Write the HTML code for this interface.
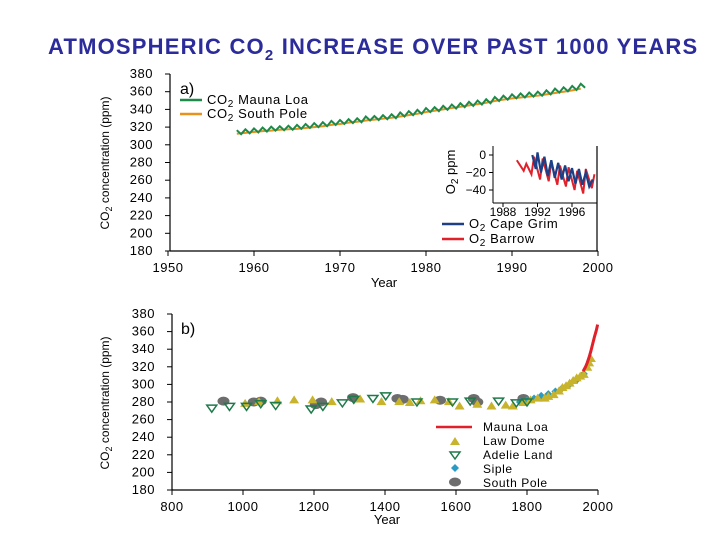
<!DOCTYPE html>
<html><head><meta charset="utf-8"><style>
html,body{margin:0;padding:0;background:#fff;width:720px;height:540px;overflow:hidden}
svg{display:block}
text{font-family:"Liberation Sans",Arial,sans-serif}
</style></head><body>
<svg id="chart" width="720" height="540" viewBox="0 0 720 540">
<text x="48" y="54" font-size="22" font-weight="bold" letter-spacing="1.2" fill="#2b2b9c">ATMOSPHERIC CO<tspan font-size="15" dy="6">2</tspan><tspan dy="-6"> INCREASE OVER PAST 1000 YEARS</tspan></text>
<g id="ga"></g>
<g id="gi"></g>
<g id="gb"></g>
</svg>
<script>
// ---- Panel a data ----
const aYears = [1958,1959,1960,1961,1962,1963,1964,1965,1966,1967,1968,1969,1970,1971,1972,1973,1974,1975,1976,1977,1978,1979,1980,1981,1982,1983,1984,1985,1986,1987,1988,1989,1990,1991,1992,1993,1994,1995,1996,1997,1998];
const maunaLoa = [314,315,316,317,318,318.5,319,320,321,322,323,324.5,325.5,326.5,327.5,329.5,330,331,332,334,335.5,337,339,340,341.5,343,344.5,346,347.5,349,351.5,353,354.5,355.5,356.5,357.5,359,361,362.5,364,366.5];
const southPole = [312.5,313.5,314.5,315.5,316,317,317.5,318,319,320,321,322.5,323.5,325,326,327.5,328.5,329.5,330.5,332,333.5,335,337,338.5,340,341.5,343,344.5,346,347.5,349.5,351,352.5,353.5,354.5,355.5,357,358.5,360,361.5,363.5];
const aYTicks = [180,200,220,240,260,280,300,320,340,360,380];
const aXTicks = [1950,1960,1970,1980,1990,2000];
// ---- Inset O2 data ----
const barrowT = [1989.6,1990.4,1990.7,1991.3,1991.6,1992.3,1992.6,1993.3,1993.6,1994.3,1994.6,1995.3,1995.6,1996.3,1996.6,1997.3,1997.6,1998.3,1998.6];
const barrowV = [-6,-18,-10,-22,-2,-28,-4,-30,-8,-34,-12,-36,-14,-40,-18,-44,-16,-38,-22];
const capeT = [1991.4,1991.8,1992.0,1992.4,1992.8,1993.2,1993.6,1994.0,1994.4,1994.8,1995.2,1995.6,1996.0,1996.4,1996.8,1997.2,1997.6,1998.0,1998.4];
const capeV = [0,-16,3,-20,-2,-24,-6,-26,-9,-28,-12,-30,-15,-33,-16,-34,-20,-36,-28];
const iYTicks = [0,-20,-40];
const iXTicks = [1988,1992,1996];
// ---- Panel b data ----
const bXTicks = [800,1000,1200,1400,1600,1800,2000];
const bYTicks = [180,200,220,240,260,280,300,320,340,360,380];
const mlYears = [1958,1965,1970,1975,1980,1985,1990,1995,1999];
const mlVals = [315,320,325,331,338,346,354,361,368];
const lawYears = [1006,1045,1097,1144,1196,1250,1330,1390,1440,1470,1500,1540,1580,1610,1660,1700,1740,1760,1790,1810,1830,1850,1860,1875,1890,1900,1910,1920,1930,1940,1950,1960,1970,1975,1980];
const lawVals = [279,281,282,283,283,281,284,281,281,280,282,283,281,276,278,276,277,276,280,283,285,285,287,289,293,297,299,302,305,308,310,312,320,325,330];
const adelieYears = [912,962,1010,1050,1092,1192,1225,1280,1312,1366,1402,1490,1590,1640,1720,1770,1800];
const adelieVals = [273,275,275,278,276,272,275,279,283,284,287,280,280,281,281,279,280];
const sipleYears = [1780,1800,1820,1840,1860,1880,1900,1920,1940,1960];
const sipleVals = [280,282,284,287,289,292,296,300,305,312];
const spYears = [945,1030,1050,1205,1220,1310,1435,1450,1555,1650,1660,1790];
const spVals = [281,280,281,277,280,285,284,283,282,284,280,284];

const NS='http://www.w3.org/2000/svg';
function mk(parent,tag,attrs,txt){const e=document.createElementNS(NS,tag);for(const k in attrs)e.setAttribute(k,attrs[k]);if(txt!==undefined)e.textContent=txt;parent.appendChild(e);return e;}
function lin(d0,d1,r0,r1){return v=>r0+(v-d0)*(r1-r0)/(d1-d0);}

// ===== Panel a =====
const ga=document.getElementById('ga');
const ax=lin(1950,2000,168,598), ay=lin(180,380,251,74);
let e=mk(ga,'line',{x1:170,y1:74,x2:170,y2:251,stroke:'#000','stroke-width':1.2});

e=mk(ga,'line',{x1:170,y1:251,x2:598,y2:251,stroke:'#000','stroke-width':1.2});

aYTicks.forEach(v=>{
  mk(ga,'line',{x1:165,y1:ay(v),x2:170,y2:ay(v),stroke:'#000'});
  e=mk(ga,'text',{x:153,y:ay(v)+4,'font-size':13,'text-anchor':'end','letter-spacing':0.5},v);
  
});
aXTicks.forEach(v=>{
  mk(ga,'line',{x1:ax(v),y1:251,x2:ax(v),y2:256,stroke:'#000'});
  e=mk(ga,'text',{x:ax(v),y:272,'font-size':13,'text-anchor':'middle','letter-spacing':0.5},v);
  
});
e=mk(ga,'text',{x:384,y:287,'font-size':13,'text-anchor':'middle'},'Year');

e=mk(ga,'text',{transform:'translate(109,163) rotate(-90)','font-size':12,'text-anchor':'middle'});
e.innerHTML='CO<tspan font-size="9" dy="3">2</tspan><tspan dy="-3"> concentration (ppm)</tspan>';

e=mk(ga,'text',{x:180,y:94,'font-size':16},'a)');

let p='';aYears.forEach((y,i)=>{p+=(i?'L':'M')+ax(y)+','+ay(southPole[i])+' ';});
e=mk(ga,'path',{d:p,fill:'none',stroke:'#e8911c','stroke-width':2});

p='';aYears.forEach((y,i)=>{p+=(i?'L':'M')+ax(y)+','+ay(maunaLoa[i]+2.5)+' L'+ax(y+0.5)+','+ay(maunaLoa[i]-2)+' ';});
e=mk(ga,'path',{d:p,fill:'none',stroke:'#1e8a4a','stroke-width':2});

[['#1e8a4a',100,' Mauna Loa','legend-mauna-loa'],['#e8911c',114,' South Pole','legend-south-pole']].forEach(L=>{
  mk(ga,'line',{x1:180,y1:L[1],x2:202,y2:L[1],stroke:L[0],'stroke-width':2.5});
  e=mk(ga,'text',{x:207,y:L[1]+4,'font-size':13,'letter-spacing':0.6});
  e.innerHTML='CO<tspan font-size="10" dy="3">2</tspan><tspan dy="-3">'+L[2]+'</tspan>';
  
});

// ===== Inset =====
const gi=document.getElementById('gi');
const ix=lin(1988,1996,503,572), iy=lin(0,-40,155,190);
mk(gi,'line',{x1:493,y1:146,x2:493,y2:203,stroke:'#000'});
mk(gi,'line',{x1:493,y1:203,x2:597,y2:203,stroke:'#000'});
e=mk(gi,'line',{x1:597,y1:146,x2:597,y2:251,stroke:'#000','stroke-width':1.2});

iYTicks.forEach(v=>{
  mk(gi,'line',{x1:489,y1:iy(v),x2:493,y2:iy(v),stroke:'#000'});
  e=mk(gi,'text',{x:486,y:iy(v)+4,'font-size':12,'text-anchor':'end'},v===0?'0':'\u2212'+(-v));
  
});
iXTicks.forEach(v=>{
  mk(gi,'line',{x1:ix(v),y1:203,x2:ix(v),y2:207,stroke:'#000'});
  e=mk(gi,'text',{x:ix(v),y:216,'font-size':12,'text-anchor':'middle'},v);
  
});
e=mk(gi,'text',{transform:'translate(455,172) rotate(-90)','font-size':13,'text-anchor':'middle'});
e.innerHTML='O<tspan font-size="10" dy="3">2</tspan><tspan dy="-3"> ppm</tspan>';

p='';barrowT.forEach((t,i)=>{p+=(i?'L':'M')+ix(t)+','+iy(barrowV[i])+' ';});
e=mk(gi,'path',{d:p,fill:'none',stroke:'#e0202a','stroke-width':2});

p='';capeT.forEach((t,i)=>{p+=(i?'L':'M')+ix(t)+','+iy(capeV[i])+' ';});
e=mk(gi,'path',{d:p,fill:'none',stroke:'#1c3f86','stroke-width':2.2});

[['#1c3f86',224,' Cape Grim','legend-cape-grim'],['#e0202a',239,' Barrow','legend-barrow']].forEach(L=>{
  mk(gi,'line',{x1:442,y1:L[1],x2:464,y2:L[1],stroke:L[0],'stroke-width':2.5});
  e=mk(gi,'text',{x:469,y:L[1]+4,'font-size':13,'letter-spacing':0.6});
  e.innerHTML='O<tspan font-size="10" dy="3">2</tspan><tspan dy="-3">'+L[2]+'</tspan>';
  
});

// ===== Panel b =====
const gb=document.getElementById('gb');
const bx=lin(800,2000,172,598), by=lin(180,380,490,314);
e=mk(gb,'line',{x1:172,y1:314,x2:172,y2:490,stroke:'#000','stroke-width':1.2});

e=mk(gb,'line',{x1:172,y1:490,x2:598,y2:490,stroke:'#000','stroke-width':1.2});

bYTicks.forEach(v=>{
  mk(gb,'line',{x1:167,y1:by(v),x2:172,y2:by(v),stroke:'#000'});
  e=mk(gb,'text',{x:155,y:by(v)+4,'font-size':13,'text-anchor':'end','letter-spacing':0.5},v);
  
});
bXTicks.forEach(v=>{
  mk(gb,'line',{x1:bx(v),y1:490,x2:bx(v),y2:495,stroke:'#000'});
  e=mk(gb,'text',{x:bx(v),y:511,'font-size':13,'text-anchor':'middle','letter-spacing':0.5},v);
  
});
e=mk(gb,'text',{x:387,y:524,'font-size':13,'text-anchor':'middle'},'Year');

e=mk(gb,'text',{transform:'translate(109,403) rotate(-90)','font-size':12,'text-anchor':'middle'});
e.innerHTML='CO<tspan font-size="9" dy="3">2</tspan><tspan dy="-3"> concentration (ppm)</tspan>';

e=mk(gb,'text',{x:181,y:334,'font-size':16},'b)');

function tri(x,y,c){return mk(gb,'polygon',{points:`${x},${y-4} ${x-5},${y+4} ${x+5},${y+4}`,fill:c});}
function itri(x,y,c){return mk(gb,'polygon',{points:`${x-5},${y-3} ${x+5},${y-3} ${x},${y+4}`,fill:'none',stroke:c,'stroke-width':1.5});}
function dia(x,y,c){return mk(gb,'polygon',{points:`${x},${y-4} ${x+4},${y} ${x},${y+4} ${x-4},${y}`,fill:c});}
function dot(x,y,c){return mk(gb,'ellipse',{cx:x,cy:y,rx:6,ry:4.5,fill:c});}
spYears.forEach((t,i)=>{e=dot(bx(t),by(spVals[i]),'#6d6d6d');
  });
sipleYears.forEach((t,i)=>{e=dia(bx(t),by(sipleVals[i]),'#2a9bc4');
  });
lawYears.forEach((t,i)=>{e=tri(bx(t),by(lawVals[i]),'#c7b32c');
  });
adelieYears.forEach((t,i)=>{e=itri(bx(t),by(adelieVals[i]),'#1e7a4a');
  });
p='';mlYears.forEach((t,i)=>{p+=(i?'L':'M')+bx(t)+','+by(mlVals[i])+' ';});
e=mk(gb,'path',{d:p,fill:'none',stroke:'#e0202a','stroke-width':3});

mk(gb,'line',{x1:436,y1:427,x2:472,y2:427,stroke:'#e0202a','stroke-width':2.5});
tri(455,441,'#c7b32c'); itri(455,455,'#1e7a4a'); dia(455,468,'#2a9bc4'); dot(455,482,'#6d6d6d');
[['Mauna Loa',431,'legend-b-mauna-loa'],['Law Dome',445,'legend-law-dome'],['Adelie Land',459,'legend-adelie-land'],['Siple',473,'legend-siple'],['South Pole',487,'legend-b-south-pole']].forEach(L=>{
  e=mk(gb,'text',{x:483,y:L[1],'font-size':12,'letter-spacing':0.6},L[0]);
  
});
</script>
</body></html>
